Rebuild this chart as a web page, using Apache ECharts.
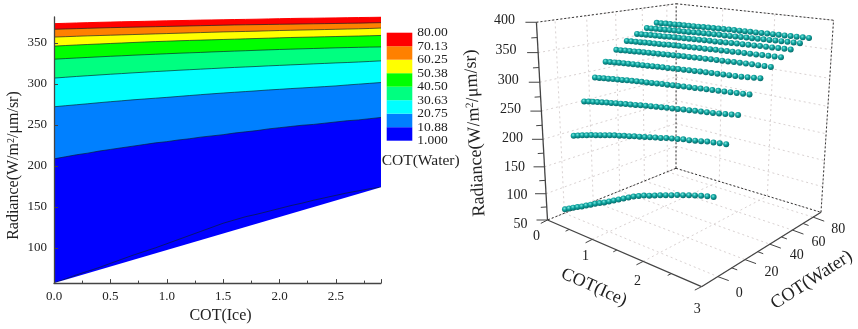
<!DOCTYPE html>
<html><head><meta charset="utf-8">
<style>html,body{margin:0;padding:0;background:#fff}#c{width:858px;height:329px}</style>
<script src="https://cdn.jsdelivr.net/npm/echarts@6/dist/echarts.min.js"></script>
</head><body><div id="c"></div>
<script>
const iceValues=[0,0.1,0.2,0.3,0.4,0.5,0.6,0.7,0.8,0.9,1,1.1,1.2,1.3,1.4,1.5,1.6,1.7,1.8,1.9,2,2.1,2.2,2.3,2.4,2.5,2.6,2.7,2.8,2.9];
const legendLabels=['1.000','10.88','20.75','30.63','40.50','50.38','60.25','70.13','80.00'];
const bandColors=['#0000ff','#0080ff','#00ffff','#00ff80','#00ff00','#ffff00','#ff8000','#ff0000'];
// contour levels of the left panel
const level1=[57,62,67,71.5,76,81,86,91,95.5,100,105,110,115,120,125,130,134,138,141,144.5,148,151.5,154.5,158,161,164,167,169.5,172,174];
const level11=[208.5,211,213.5,215.5,218,220,222,224,226,228,229.5,231.5,233,235,236.5,238,240,241.5,243,245,246.5,248,249.5,250.5,252,253.5,255,256,257.5,259];
const level21=[272,273.3,274.5,275.7,277,278.2,279.3,280.5,281.5,282.5,283.5,284.6,285.7,286.8,287.8,288.8,289.7,290.6,291.5,292.5,293.3,294.2,295,295.8,296.6,297.5,298.6,299.6,300.6,301.6];
const level31=[307,308,309,309.9,310.8,311.7,312.5,313.4,314.2,315,315.7,316.5,317.2,317.9,318.6,319.3,320,320.6,321.2,321.9,322.5,323.1,323.7,324.3,324.9,325.5,326,326.6,327.3,328];
const level40=[330,330.8,331.5,332.2,332.9,333.6,334.2,334.9,335.5,336.1,336.7,337.3,337.8,338.3,338.9,339.4,339.9,340.4,340.9,341.4,341.9,342.3,342.7,343.1,343.5,343.9,344.2,344.5,344.8,345];
const level50=[346,346.7,347.4,348,348.6,349.2,349.8,350.4,351,351.5,352,352.5,352.9,353.3,353.7,354.1,354.5,354.9,355.3,355.7,356.1,356.5,356.8,357.1,357.4,357.7,358,358.3,358.6,359];
const level60=[357,357.5,358,358.5,358.9,359.3,359.7,360.1,360.5,360.9,361.3,361.7,362.1,362.5,362.9,363.3,363.6,363.9,364.2,364.6,365,365.3,365.6,365.9,366.2,366.5,366.8,367.1,367.5,368];
const level70=[366.5,366.9,367.3,367.7,368.1,368.5,368.8,369.1,369.4,369.7,370,370.3,370.6,370.9,371.2,371.5,371.8,372,372.2,372.4,372.6,372.8,373,373.2,373.4,373.6,373.8,374,374.3,374.6];
const level80=[373.4,373.8,374.2,374.6,375,375.3,375.6,375.9,376.2,376.5,376.8,377.1,377.4,377.7,377.9,378.1,378.4,378.6,378.8,379.1,379.4,379.7,379.9,380,380.2,380.4,380.6,380.8,381.1,381.5];
const contourRows=[level1,level11,level21,level31,level40,level50,level60,level70,level80];
const lowerEdge=[[0,57],[2.9,174]];
// rows of the right panel
const rowWater=[0.5,8.4,16.3,24.2,32,39.9,47.8,55.7,63.5,71.5];
const row1=level1;
const row2=[190,192.9,195.8,198.2,201,203.4,205.8,208.1,210.4,212.7,214.5,216.8,218.6,220.9,222.7,224.5,226.8,228.6,230.4,232.7,234.5,236.2,238,239.1,240.9,242.6,244.4,245.5,246.8,248];
const row3=[248,249.7,251.2,252.8,254.4,256,257.4,258.9,260.2,261.5,262.8,264.2,265.6,267,268.3,269.6,270.7,271.9,273,274.3,275.3,276.4,277.5,278.5,279.5,280.7,282,283.3,284.6,286];
const row4=[287,288.1,289.2,290.2,291.3,292.3,293.3,294.3,295.2,296.1,297,297.9,298.8,299.6,300.5,301.3,302.1,302.9,303.6,304.5,305.2,306,306.7,307.4,308.1,308.8,309.5,310.2,311.1,312];
const row5=[312,312.9,313.8,314.6,315.4,316.2,316.9,317.7,318.4,319.1,319.8,320.5,321.1,321.7,322.4,323,323.6,324.2,324.7,325.4,325.9,326.5,327,327.5,328.1,328.6,329.2,329.9,330.9,332];
const row6=level40;
const row7=[343,343.6,344.2,344.8,345.4,345.9,346.5,347,347.5,348,348.5,349,349.4,349.8,350.3,350.7,351.1,351.6,352,352.4,352.8,353.2,353.5,353.9,354.2,354.6,354.9,355.2,355.6,356];
const row8=[353,353.5,354.1,354.6,355,355.5,355.9,356.4,356.8,357.2,357.7,358.1,358.5,358.9,359.3,359.7,360,360.4,360.8,361.2,361.6,361.9,362.2,362.6,362.9,363.2,363.5,363.8,364.1,364.5];
const row9=[361,361.5,361.9,362.3,362.7,363.1,363.4,363.8,364.2,364.6,365,365.4,365.7,366.1,366.4,366.8,367.1,367.4,367.7,368,368.4,368.7,369,369.3,369.6,369.9,370.2,370.4,370.7,371];
const row10=[368,368.4,368.8,369.2,369.6,369.9,370.2,370.5,370.8,371.1,371.4,371.7,372,372.3,372.6,372.9,373.2,373.4,373.6,373.8,374,374.2,374.4,374.6,374.8,375,375.2,375.4,375.7,376];
const radianceRows=[row1,row2,row3,row4,row5,row6,row7,row8,row9,row10];
const iceTicks=[0,1,2,3], waterTicks=[0,20,40,60,80], zTicks=[50,100,150,200,250,300,350,400];
const FONT='"Liberation Serif","Times New Roman",serif', INK='#222';

// Perspective camera of the 3D box (screen position of its corners)
const cam={A:[547.5,220],B:[701.5,286.7],C:[821,212.3],D:[676,168.3],At:[536,21.7],Dt:[676.7,5],Ct:[833.3,19.3]};
const range={ice:[0,3],water:[-11,88],z:[50,400]};
function solveCamera(c){
  const [x0,y0]=c.A,[x1,y1]=c.B,[x2,y2]=c.C,[x3,y3]=c.D;
  const dx1=x1-x2,dx2=x3-x2,sx=x0-x1+x2-x3,dy1=y1-y2,dy2=y3-y2,sy=y0-y1+y2-y3;
  const den=dx1*dy2-dx2*dy1,g=(sx*dy2-dx2*sy)/den,h=(dx1*sy-sx*dy1)/den;
  const a1=x1-x0+g*x1,a2=x3-x0+h*x3,a4=x0,b1=y1-y0+g*y1,b2=y3-y0+h*y3,b4=y0;
  const top=[[c.At,0,0],[c.Dt,0,1],[c.Ct,1,1]];
  const rx=top.map(([p,u,v])=>p[0]*(g*u+h*v+1)-(a1*u+a2*v+a4));
  const ry=top.map(([p,u,v])=>p[1]*(g*u+h*v+1)-(b1*u+b2*v+b4));
  const mean=a=>a.reduce((s,x)=>s+x,0)/a.length;
  const X=top.map(t=>t[0][0]),Y=top.map(t=>t[0][1]),mX=mean(X),mY=mean(Y),mrx=mean(rx),mry=mean(ry);
  let nu=0,de=0;top.forEach((t,i)=>{nu+=(X[i]-mX)*(rx[i]-mrx)+(Y[i]-mY)*(ry[i]-mry);de+=(X[i]-mX)**2+(Y[i]-mY)**2;});
  const k=-nu/de,a3=mX*k+mrx,b3=mY*k+mry;
  return {a1,a2,a3,a4,b1,b2,b3,b4,g,h,k};
}
const M=solveCamera(cam);
function project(ice,water,z){
  const u=(ice-range.ice[0])/(range.ice[1]-range.ice[0]),v=(water-range.water[0])/(range.water[1]-range.water[0]),t=(z-range.z[0])/(range.z[1]-range.z[0]);
  const w=M.g*u+M.h*v+M.k*t+1;
  return [(M.a1*u+M.a2*v+M.a3*t+M.a4)/w,(M.b1*u+M.b2*v+M.b3*t+M.b4)/w];
}
const [IMIN,IMAX]=range.ice,[WMIN,WMAX]=range.water,[ZMIN,ZMAX]=range.z;

// Left chart series: painted from top band to bottom
const lineCol='rgba(10,30,40,0.65)';
const leftSeries=[];
for(let r=contourRows.length-1;r>=0;r--){
  const area=r===0?bandColors[0]:bandColors[r-1];
  leftSeries.push({type:'line',xAxisIndex:0,yAxisIndex:0,showSymbol:false,silent:true,animation:false,z:2+(contourRows.length-r),
    data:iceValues.map((x,i)=>[x,contourRows[r][i]]),
    lineStyle:{color:r===8?bandColors[7]:lineCol,width:1},areaStyle:{color:area,opacity:1,origin:'start'}});
}
leftSeries.push({type:'line',xAxisIndex:0,yAxisIndex:0,showSymbol:false,silent:true,animation:false,z:20,data:lowerEdge,
  lineStyle:{width:0},areaStyle:{color:'#fff',opacity:1,origin:'start'}});

// Legend colour bar
const legendSeries=bandColors.map(c=>({type:'bar',xAxisIndex:1,yAxisIndex:1,stack:'b',barWidth:'100%',data:[1],itemStyle:{color:c},silent:true,animation:false}));

// 3D points: back rows first
const spherePts=[];
for(let r=radianceRows.length-1;r>=0;r--) iceValues.forEach((x,i)=>spherePts.push(project(x,rowWater[r],radianceRows[r][i])));

function seg(api,p,q,style){const a=api.coord(p),b=api.coord(q);return {type:'line',shape:{x1:a[0],y1:a[1],x2:b[0],y2:b[1]},style};}
function label(api,p,text,extra){const a=api.coord(p);return Object.assign({type:'text',x:a[0],y:a[1],style:Object.assign({text,font:'14px '+FONT,fill:INK,align:'center',verticalAlign:'middle'},extra&&extra.style||{})},extra&&extra.el||{});}
function renderBox(params,api){
  const kids=[];
  const gridS={stroke:'#d9d2d2',lineWidth:1,lineDash:[2,3],fill:null};
  const dashS={stroke:'#333',lineWidth:1,lineDash:[2,2],fill:null};
  const axisS={stroke:'#444',lineWidth:1.3,fill:null};
  const tickS={stroke:'#444',lineWidth:1,fill:null};
  const P=project, L=(p,q,s)=>kids.push(seg(api,p,q,s));
  zTicks.forEach(z=>{L(P(IMIN,WMIN,z),P(IMIN,WMAX,z),gridS);L(P(IMIN,WMAX,z),P(IMAX,WMAX,z),gridS);});
  waterTicks.forEach(w=>{L(P(IMIN,w,ZMIN),P(IMIN,w,ZMAX),gridS);L(P(IMIN,w,ZMIN),P(IMAX,w,ZMIN),gridS);});
  iceTicks.forEach(i=>{L(P(i,WMAX,ZMIN),P(i,WMAX,ZMAX),gridS);L(P(i,WMIN,ZMIN),P(i,WMAX,ZMIN),gridS);});
  [[[IMIN,WMIN,ZMAX],[IMIN,WMAX,ZMAX]],[[IMIN,WMAX,ZMAX],[IMAX,WMAX,ZMAX]],[[IMIN,WMAX,ZMIN],[IMIN,WMAX,ZMAX]],
   [[IMAX,WMAX,ZMIN],[IMAX,WMAX,ZMAX]],[[IMIN,WMAX,ZMIN],[IMIN,WMIN,ZMIN]],[[IMIN,WMAX,ZMIN],[IMAX,WMAX,ZMIN]]]
   .forEach(([a,b])=>L(P(...a),P(...b),dashS));
  [[[IMIN,WMIN,ZMIN],[IMIN,WMIN,ZMAX]],[[IMIN,WMIN,ZMIN],[IMAX,WMIN,ZMIN]],[[IMAX,WMIN,ZMIN],[IMAX,WMAX,ZMIN]]]
   .forEach(([a,b])=>L(P(...a),P(...b),axisS));
  const add=(p,d)=>[p[0]+d[0],p[1]+d[1]];
  iceTicks.forEach((i,n)=>{const p=P(i,WMIN,ZMIN);L(p,add(p,[-6.7,3.4]),tickS);
    if(n<3){const m=P(i+0.5,WMIN,ZMIN);L(m,add(m,[-3.6,1.8]),tickS);}
    kids.push(label(api,add(p,[[-11,16],[-6.7,16.7],[-5.7,19.7],[-4.2,22.6]][n]),String(i)));});
  waterTicks.forEach((w,n)=>{const p=P(IMAX,w,ZMIN);L(p,add(p,[11,4]),tickS);
    if(n<4){const m=P(IMAX,w+10,ZMIN);L(m,add(m,[5.5,2]),tickS);}
    kids.push(label(api,add(p,[[21.6,16.6],[26.5,13],[27,11.5],[26,12],[25,12]][n]),String(w)));});
  const zdx=[-27,-29,-30,-30.5,-31,-31.5,-32,-32],zdy=[4,1.5,0,-1,-1.5,-2,-2,-2.4];
  zTicks.forEach((z,n)=>{const p=P(IMIN,WMIN,z);L(p,add(p,[-11,0]),tickS);
    if(n<7){const m=P(IMIN,WMIN,z+25);L(m,add(m,[-6,0.4]),tickS);}
    kids.push(label(api,add(p,[zdx[n],zdy[n]]),String(z)));});
  kids.push(label(api,[594,287.3],'COT(Ice)',{style:{font:'18px '+FONT},el:{rotation:-24*Math.PI/180}}));
  kids.push(label(api,[811.7,280],'COT(Water)',{style:{font:'18.5px '+FONT},el:{rotation:33*Math.PI/180}}));
  kids.push(label(api,[475,133],'Radiance(W/m{s|2}/μm/sr)',{style:{font:'18px '+FONT,rich:{s:{font:'11px '+FONT,fill:INK,verticalAlign:'top',padding:[0,0,5,0]}}},el:{rotation:(90+3.2)*Math.PI/180}}));
  return {type:'group',children:kids};
}

const option={
  animation:false,backgroundColor:'#fff',
  textStyle:{fontFamily:FONT},
  grid:[
    {left:54,top:17,width:327,height:269},
    {left:386.7,top:32.7,width:25.6,height:108},
    {left:0,top:0,width:858,height:329}
  ],
  xAxis:[
    {type:'value',gridIndex:0,min:0,max:2.9,interval:0.5,z:30,splitLine:{show:false},
     name:'COT(Ice)',nameLocation:'middle',nameGap:21,nameTextStyle:{fontFamily:FONT,fontSize:16,color:INK,padding:[0,0,0,6]},
     axisLine:{show:true,lineStyle:{color:'#444',width:1.3}},axisTick:{show:true,inside:true,length:4,lineStyle:{color:'#444'}},
     minorTick:{show:true,splitNumber:2,length:2.5,lineStyle:{color:'#444'}},
     axisLabel:{fontFamily:FONT,fontSize:13,color:INK,margin:7,showMaxLabel:false,formatter:v=>v.toFixed(1)}},
    {type:'category',gridIndex:1,data:['b'],show:false},
    {type:'value',gridIndex:2,min:0,max:858,show:false}
  ],
  yAxis:[
    {type:'value',gridIndex:0,min:57,max:381.5,z:30,splitLine:{show:false},
     name:'Radiance(W/m{s|2}/μm/sr)',nameLocation:'middle',nameGap:32,nameRotate:90,
     nameTextStyle:{fontFamily:FONT,fontSize:16,color:INK,padding:[0,31,0,0],rich:{s:{fontFamily:FONT,fontSize:10,color:INK,verticalAlign:'top',padding:[0,0,4,0]}}},
     axisLine:{show:true,lineStyle:{color:'#444',width:1.3}},axisTick:{show:true,inside:true,length:4,lineStyle:{color:'#444'}},
     axisLabel:{fontFamily:FONT,fontSize:13,color:INK,margin:7,showMinLabel:false,showMaxLabel:false}},
    {type:'value',gridIndex:1,min:0,max:8,show:false},
    {type:'value',gridIndex:2,min:0,max:329,inverse:true,show:false},
    {type:'category',gridIndex:1,data:legendLabels,boundaryGap:false,position:'right',splitLine:{show:false},axisLine:{show:false},axisTick:{show:false},
     axisLabel:{fontFamily:FONT,fontSize:13.5,color:INK,margin:5,interval:0}}
  ],
  graphic:[{type:'text',left:381.7,top:152.5,style:{text:'COT(Water)',font:'15.5px '+FONT,fill:INK}}],
  series:[
    ...leftSeries,...legendSeries,
    {type:'custom',xAxisIndex:2,yAxisIndex:2,data:[[0,0]],renderItem:renderBox,silent:true,animation:false,z:1,clip:false},
    {type:'scatter',xAxisIndex:2,yAxisIndex:2,data:spherePts,symbolSize:6,silent:true,animation:false,z:5,clip:false,
     itemStyle:{opacity:1,color:{type:'radial',x:0.4,y:0.35,r:0.65,colorStops:[{offset:0,color:'#7fe8e0'},{offset:0.45,color:'#0fa5a0'},{offset:1,color:'#066a6a'}]}}}
  ]
};
echarts.init(document.getElementById('c'),null,{renderer:'canvas'}).setOption(option);
</script></body></html>
